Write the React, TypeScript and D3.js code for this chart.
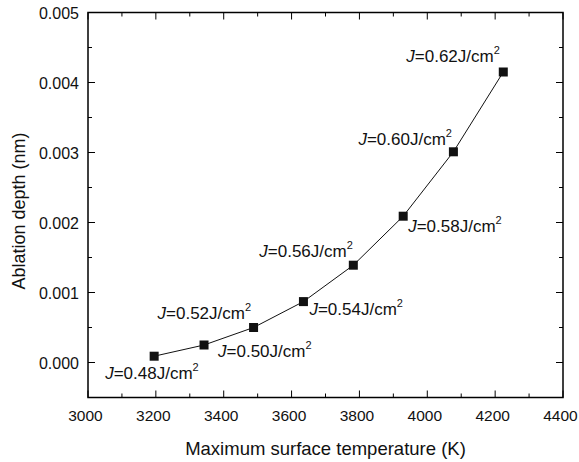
import React from "react";
import * as d3 from "d3";

const temps = [3195, 3342, 3488, 3635, 3782, 3929, 4077, 4224];
const depths = [0.00009, 0.00025, 0.0005, 0.00087, 0.00139, 0.00209, 0.00301, 0.00415];
const fluences = ["0.48", "0.50", "0.52", "0.54", "0.56", "0.58", "0.60", "0.62"];
// label offset placement: [dx, dy] relative to point, in px
const labelOffsets: [number, number][] = [
  [-49, 23],
  [14, 12],
  [-96, -9],
  [6, 13],
  [-94, -8],
  [5, 16],
  [-95, -7],
  [-97, -10],
];
const xTicks = [3000, 3200, 3400, 3600, 3800, 4000, 4200, 4400];
const yTicks = [0, 0.001, 0.002, 0.003, 0.004, 0.005];
const xMinor = d3.range(3100, 4400, 200);
const yMinor = [-0.0005, 0.0005, 0.0015, 0.0025, 0.0035, 0.0045];

const W = 579;
const H = 462;
const M = { left: 88, right: 563, top: 12.5, bottom: 397.5 };
const FONT = "Liberation Sans, Arial, Helvetica, sans-serif";

export default function App() {
  const x = d3.scaleLinear().domain([3000, 4400]).range([M.left, M.right]);
  const y = d3.scaleLinear().domain([-0.0005, 0.005]).range([M.bottom, M.top]);
  const line = d3
    .line<number>()
    .x((_, i) => x(temps[i]))
    .y((d) => y(d));
  const major = 7;
  const minor = 4;
  return (
    <svg
      width={W}
      height={H}
      style={{ position: "absolute", left: 0, top: 0, background: "#fff" }}
      fontFamily={FONT}
    >
      <rect x={0} y={0} width={W} height={H} fill="#fff" />
      {/* ticks */}
      <g stroke="#000" strokeWidth={1}>
        {xTicks.map((t) => (
          <g key={"xt" + t}>
            <line x1={x(t)} x2={x(t)} y1={M.bottom} y2={M.bottom - major} />
            <line x1={x(t)} x2={x(t)} y1={M.top} y2={M.top + major} />
          </g>
        ))}
        {xMinor.map((t) => (
          <g key={"xm" + t}>
            <line x1={x(t)} x2={x(t)} y1={M.bottom} y2={M.bottom - minor} />
            <line x1={x(t)} x2={x(t)} y1={M.top} y2={M.top + minor} />
          </g>
        ))}
        {yTicks.map((t) => (
          <g key={"yt" + t}>
            <line x1={M.left} x2={M.left + major} y1={y(t)} y2={y(t)} />
            <line x1={M.right} x2={M.right - major} y1={y(t)} y2={y(t)} />
          </g>
        ))}
        {yMinor.map((t) => (
          <g key={"ym" + t}>
            <line x1={M.left} x2={M.left + minor} y1={y(t)} y2={y(t)} />
            <line x1={M.right} x2={M.right - minor} y1={y(t)} y2={y(t)} />
          </g>
        ))}
      </g>
      <rect
        x={M.left}
        y={M.top}
        width={M.right - M.left}
        height={M.bottom - M.top}
        fill="none"
        stroke="#000"
        strokeWidth={1.5}
      />
      {/* tick labels */}
      {xTicks.map((t) => (
        <text key={"xl" + t} x={x(t) - 2.5} y={421} fontSize={15.5} textAnchor="middle" fill="#111">
          {t}
        </text>
      ))}
      {yTicks.map((t) => (
        <text key={"yl" + t} x={79} y={y(t) + 6} fontSize={16} textAnchor="end" fill="#111">
          {d3.format(".3f")(t)}
        </text>
      ))}
      <text x={(M.left + M.right) / 2} y={455} fontSize={18.5} textAnchor="middle" fill="#111">
        Maximum surface temperature (K)
      </text>
      <text
        transform={`translate(25,${(M.top + M.bottom) / 2 + 6}) rotate(-90)`}
        fontSize={18}
        textAnchor="middle"
        fill="#111"
      >
        Ablation depth (nm)
      </text>
      {/* line */}
      <path d={line(depths) || ""} fill="none" stroke="#111" strokeWidth={1} />
      {depths.map((d, i) => (
        <rect key={"p" + i} x={x(temps[i]) - 4.5} y={y(d) - 4.5} width={9} height={9} fill="#111" />
      ))}
      {depths.map((d, i) => (
        <text
          key={"l" + i}
          x={x(temps[i]) + labelOffsets[i][0]}
          y={y(d) + labelOffsets[i][1]}
          fontSize={17}
          fill="#111"
        >
          <tspan fontStyle="italic">J</tspan>
          <tspan>{"=" + fluences[i] + "J/cm"}</tspan>
          <tspan fontSize={11} dy={-8}>2</tspan>
        </text>
      ))}
    </svg>
  );
}
